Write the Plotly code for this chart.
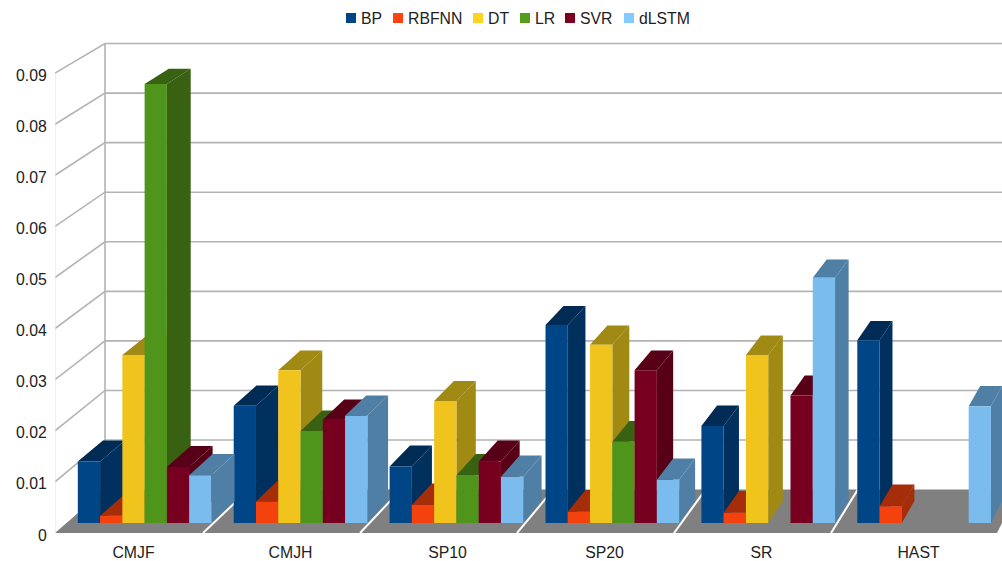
import plotly.graph_objects as go

# Values per method for each benchmark (None = no bar)
categories = ["CMJF", "CMJH", "SP10", "SP20", "SR", "HAST"]
BP = [0.0121, 0.0231, 0.0111, 0.0390, 0.0191, 0.0360]
RBFNN = [0.0014, 0.0042, 0.0035, 0.0022, 0.0020, 0.0033]
DT = [0.0331, 0.0301, 0.0240, 0.0351, 0.0331, None]
LR = [0.0865, 0.0181, 0.0094, 0.0160, None, None]
SVR = [0.0110, 0.0203, 0.0121, 0.0301, 0.0251, None]
dLSTM = [0.0094, 0.0211, 0.0091, 0.0085, 0.0483, 0.0230]
y_ticks = [0, 0.01, 0.02, 0.03, 0.04, 0.05, 0.06, 0.07, 0.08, 0.09]
y_tick_text = ["0", "0.01", "0.02", "0.03", "0.04", "0.05", "0.06", "0.07", "0.08", "0.09"]

series = [
    ("BP", BP, "#004586", "#00305e", "#002b54"),
    ("RBFNN", RBFNN, "#f4420e", "#a52d09", "#a52d09"),
    ("DT", DT, "#f0c41d", "#a08a14", "#a08a14"),
    ("LR", LR, "#50951b", "#386112", "#386112"),
    ("SVR", SVR, "#770021", "#580017", "#580017"),
    ("dLSTM", dLSTM, "#7bbcee", "#507fa6", "#507fa6"),
]
legend_colors = ["#004586", "#ff420e", "#ffd320", "#579d1c", "#7e0021", "#83caff"]
legend_left_px = [346, 393, 473, 520, 565, 624]

# One-point perspective of the box: vanishing point in axis units and depth fractions
VANISH_X, VANISH_Y = 10.118, 0.283
DEPTH_WALL = 0.03
DEPTH_BAR_FRONT = 0.0070
DEPTH_BAR_BACK = 0.0222
BAR_SLOT = 1 / 7

# Plot frame in pixels
W, H = 1002, 561
L, R, T, B = 55, 0, 40, 28
PX_X = 157.0
PX_Y = 5110.0


def project(x, v, depth):
    return x + depth * (VANISH_X - x), v + depth * (VANISH_Y - v)


def polygons(faces):
    xs, ys = [], []
    for face in faces:
        for x, v, depth in face:
            px, py = project(x, v, depth)
            xs.append(px)
            ys.append(py)
        xs.append(None)
        ys.append(None)
    return xs, ys


def filled(faces, color):
    xs, ys = polygons(faces)
    return go.Scatter(x=xs, y=ys, mode="lines", fill="toself", fillcolor=color,
                      line=dict(width=0, color=color), hoverinfo="skip", showlegend=False)


def polyline(points, color, width):
    xs, ys = polygons([points])
    return go.Scatter(x=xs, y=ys, mode="lines", line=dict(color=color, width=width),
                      hoverinfo="skip", showlegend=False)


fig = go.Figure()

# Floor with its white category dividers
n = len(categories)
x0, x1 = -0.5, n - 0.5
fig.add_trace(filled([[(x0, 0, 0), (x1, 0, 0), (x1, 0, DEPTH_WALL), (x0, 0, DEPTH_WALL)]], "#808080"))
for c in range(n - 1):
    xd = c + 0.5 - 0.057
    fig.add_trace(polyline([(xd, 0, 0), (xd, 0, DEPTH_WALL)], "#ffffff", 2))

# Wall grid: each value runs from the front edge to the back wall, then across it
for v in y_ticks[1:]:
    fig.add_trace(polyline([(x0, v, 0), (x0, v, DEPTH_WALL), (x1 + 1, v, DEPTH_WALL)], "#b3b3b3", 1.6))
fig.add_trace(polyline([(x0, 0, DEPTH_WALL), (x0, y_ticks[-1], DEPTH_WALL)], "#b3b3b3", 1.6))
fig.add_trace(polyline([(x0, 0, 0), (x0, y_ticks[-1], 0)], "#e4e4e4", 1))

# Bars, one series at a time so each right-hand front covers its neighbour's side
for i, (name, values, front, side, top) in enumerate(series):
    fronts, sides, tops = [], [], []
    for c, v in enumerate(values):
        if v is None:
            continue
        a = c - 0.5 + (i + 0.5) * BAR_SLOT
        b = a + BAR_SLOT
        f, k = DEPTH_BAR_FRONT, DEPTH_BAR_BACK
        fronts.append([(a, 0, f), (b, 0, f), (b, v, f), (a, v, f)])
        sides.append([(b, 0, f), (b, 0, k), (b, v, k), (b, v, f)])
        tops.append([(a, v, f), (b, v, f), (b, v, k), (a, v, k)])
    fig.add_trace(filled(sides, side))
    fig.add_trace(filled(tops, top))
    fig.add_trace(filled(fronts, front))

# Legend row across the top
plot_w, plot_h = W - L - R, H - T - B
shapes, annotations = [], []
for (name, *_), color, left in zip(series, legend_colors, legend_left_px):
    shapes.append(dict(type="rect", xref="paper", yref="paper", layer="above",
                       x0=(left - L) / plot_w, x1=(left + 10 - L) / plot_w,
                       y0=(H - B - 23) / plot_h, y1=(H - B - 13) / plot_h,
                       fillcolor=color, line=dict(width=0)))
    annotations.append(dict(text=name, xref="paper", yref="paper", showarrow=False,
                            x=(left + 13 - L) / plot_w, xanchor="left",
                            y=(H - B - 18) / plot_h, yanchor="middle",
                            font=dict(family="Liberation Sans", size=15.8, color="#222222")))

fig.update_layout(
    width=W, height=H,
    margin=dict(l=L, r=R, t=T, b=B, pad=0, autoexpand=False),
    paper_bgcolor="white", plot_bgcolor="white",
    showlegend=False,
    shapes=shapes, annotations=annotations,
    font=dict(family="Liberation Sans", size=15.8, color="#222222"),
    xaxis=dict(range=[x0, x0 + plot_w / PX_X], tickmode="array", automargin=False,
               tickvals=list(range(n)), ticktext=categories,
               showgrid=False, zeroline=False, showline=False,
               ticks="outside", ticklen=5, tickcolor="rgba(0,0,0,0)"),
    yaxis=dict(range=[0, plot_h / PX_Y], tickmode="array", automargin=False,
               tickvals=y_ticks, ticktext=y_tick_text, ticklabelshift=2,
               showgrid=False, zeroline=False, showline=False,
               ticks="outside", ticklen=4, tickcolor="rgba(0,0,0,0)"),
)

fig.write_html("out.html")
